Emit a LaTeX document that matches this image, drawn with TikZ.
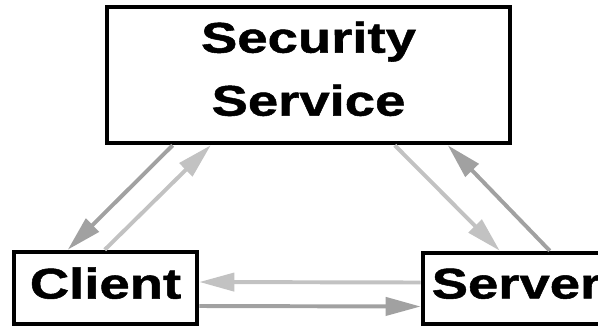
\documentclass[tikz,border=0pt]{standalone}
\usepackage{fontspec}
\newfontfamily\boxfont[FakeStretch=1.27, FakeBold=1.2]{Liberation Sans Bold}
\usepackage{tikz}
\usetikzlibrary{arrows.meta}

\definecolor{lightmsg}{gray}{0.76}
\definecolor{darkmsg}{gray}{0.63}

\begin{document}
\begin{tikzpicture}[x=0.025cm, y=-0.025cm,
    box/.style={draw, line width=3.2pt, inner sep=0pt, align=center,
      font=\boxfont\fontsize{30.5}{44.8}\selectfont},
    msg/.style={line width=2.8pt, -{Triangle[length=0.875cm, width=0.45cm]}}]
    \useasboundingbox (0, 0) rectangle (598, 325);

    \node [box, minimum width=10.075cm, minimum height=3.4cm, text depth=0.32cm] (sec) at (308.5, 75) {Security\\Service};
    \node [box, minimum width=4.575cm, minimum height=1.8cm, text depth=0.25cm] (client) at (105.5, 288) {Client};
    \node [box, minimum width=4.675cm, minimum height=1.775cm, text depth=0.25cm] (server) at (516.5, 288.5) {Server};

    % client <-> security service
    \draw [msg, darkmsg] ([xshift=1.7cm]sec.south west) -- ([xshift=1.4cm]client.north west);
    \draw [msg, lightmsg] ([xshift=2.325cm]client.north west) -- ([xshift=2.65cm]sec.south west);

    % security service <-> server
    \draw [msg, lightmsg] ([xshift=7.25cm]sec.south west) -- ([xshift=1.975cm]server.north west);
    \draw [msg, darkmsg] ([xshift=3.225cm]server.north west) -- ([xshift=8.575cm]sec.south west);

    % client <-> server
    \draw [msg, lightmsg] ([yshift=0.15cm]server.west) -- ([yshift=0.15cm]client.east);
    \draw [msg, darkmsg] ([yshift=-0.45cm]client.east) -- ([yshift=-0.45cm]server.west);
  \end{tikzpicture}
\end{document}
